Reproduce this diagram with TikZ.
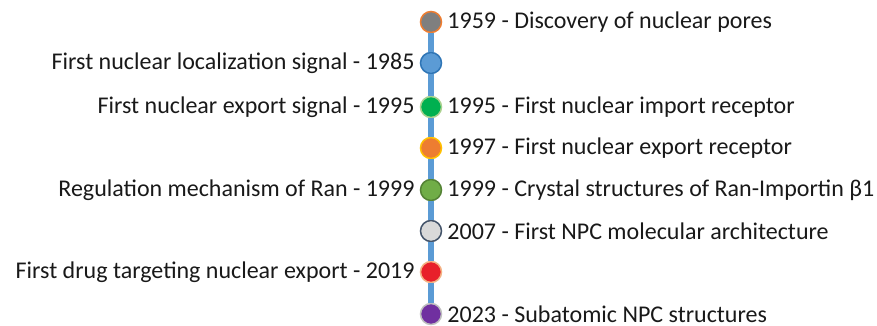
\documentclass[tikz,border=0pt]{standalone}
\usepackage{fontspec}
\setmainfont{Carlito}
\usetikzlibrary{positioning}
\definecolor{stemblue}{HTML}{5B9BD5}
\definecolor{poregray}{HTML}{7F7F7F}
\definecolor{poreorange}{HTML}{ED7D31}
\definecolor{nlsblue}{HTML}{5B9BD5}
\definecolor{nlsedge}{HTML}{2E75B6}
\definecolor{importgreen}{HTML}{00B050}
\definecolor{importedge}{HTML}{A9D18E}
\definecolor{exportorange}{HTML}{ED7D31}
\definecolor{exportedge}{HTML}{FFC000}
\definecolor{rangreen}{HTML}{70AD47}
\definecolor{ranedge}{HTML}{548235}
\definecolor{npcgray}{HTML}{D9D9D9}
\definecolor{npcedge}{HTML}{44546A}
\definecolor{drugred}{HTML}{E8202A}
\definecolor{drugedge}{HTML}{F4B183}
\definecolor{atompurple}{HTML}{7030A0}
\definecolor{atomedge}{HTML}{BFBFBF}
\tikzset{
  event/.style={circle, inner sep=0pt, minimum size=21pt, line width=1.5pt},
  stem/.style={stemblue, line width=5.5pt},
  label/.style={font=\fontsize{24}{28}\selectfont, inner sep=0pt, text=black!90},
}

\begin{document}
\begin{tikzpicture}[x=1pt, y=-1pt]
    \useasboundingbox (0,0) rectangle (877,326);

    % milestones on the stem
    \node[event, fill=poregray, draw=poreorange] (e1959) at (431,22) {};
    \node[event, fill=nlsblue, draw=nlsedge] (e1985) at (431,63) {};
    \node[event, fill=importgreen, draw=importedge] (e1995) at (431,107) {};
    \node[event, fill=exportorange, draw=exportedge] (e1997) at (431,148) {};
    \node[event, fill=rangreen, draw=ranedge] (e1999) at (431,190) {};
    \node[event, fill=npcgray, draw=npcedge] (e2007) at (431,231) {};
    \node[event, fill=drugred, draw=drugedge] (e2019) at (431,272) {};
    \node[event, fill=atompurple, draw=atomedge] (e2023) at (431,314) {};

    % stem segments between milestones
    \foreach \a/\b in {1959/1985, 1985/1995, 1995/1997, 1997/1999, 1999/2007, 2007/2019, 2019/2023} {
      \draw[stem] (e\a) -- (e\b);
    }

    % right side
    \node[label, right=5pt of e1959] (r1959) {1959 - Discovery of nuclear pores};
    \node[label, right=5pt of e1995] (r1995) {1995 - First nuclear import receptor};
    \node[label, right=5pt of e1997] (r1997) {1997 - First nuclear export receptor};
    \node[label, right=5pt of e1999] (r1999) {1999 - Crystal structures of Ran-Importin β1};
    \node[label, right=5pt of e2007] (r2007) {2007 - First NPC molecular architecture};
    \node[label, right=5pt of e2023] (r2023) {2023 - Subatomic NPC structures};

    % left side
    \node[label, left=5pt of e1985] (l1985) {First nuclear localization signal - 1985};
    \node[label, left=5pt of e1995] (l1995) {First nuclear export signal - 1995};
    \node[label, left=5pt of e1999] (l1999) {Regulation mechanism of Ran - 1999};
    \node[label, left=5pt of e2019] (l2019) {First drug targeting nuclear export - 2019};
\end{tikzpicture}
\end{document}
